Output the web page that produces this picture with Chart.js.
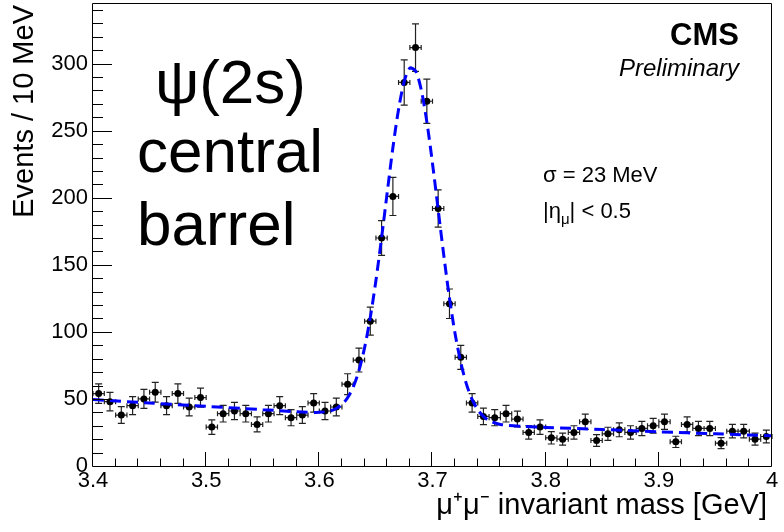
<!DOCTYPE html>
<html lang="en">
<head>
<meta charset="UTF-8">
<title>psi(2s) central barrel</title>
<script src="https://cdn.jsdelivr.net/npm/chart.js"></script>
<style>
  html, body { margin: 0; padding: 0; background: #fff; }
  #wrap { width: 784px; height: 532px; }
</style>
</head>
<body>
<div id="wrap"><canvas id="massChart" width="784" height="532"></canvas></div>
<script>
// bin centres, GeV (10 MeV bins)
const massBins = [
  3.405, 3.415, 3.425, 3.435, 3.445, 3.455, 3.465, 3.475, 3.485, 3.495,
  3.505, 3.515, 3.525, 3.535, 3.545, 3.555, 3.565, 3.575, 3.585, 3.595,
  3.605, 3.615, 3.625, 3.635, 3.645, 3.655, 3.665, 3.675, 3.685, 3.695,
  3.705, 3.715, 3.725, 3.735, 3.745, 3.755, 3.765, 3.775, 3.785, 3.795,
  3.805, 3.815, 3.825, 3.835, 3.845, 3.855, 3.865, 3.875, 3.885, 3.895,
  3.905, 3.915, 3.925, 3.935, 3.945, 3.955, 3.965, 3.975, 3.985, 3.995
];
// events per bin
const events = [
  54, 48, 38, 45, 50, 55, 45, 54, 44, 51,
  29, 39, 41, 39, 31, 39, 45, 36, 38, 47,
  41, 44, 61, 79, 108, 170, 201, 286, 312, 272,
  192, 121, 81, 47, 37, 36, 39, 35, 25, 29,
  21, 20, 25, 33, 19, 24, 27, 25, 28, 30,
  33, 18, 31, 28, 28, 17, 26, 26, 20, 22
];
// vertical error bars
const eventErrors = [
  7.3, 6.9, 6.2, 6.7, 7.1, 7.4, 6.7, 7.3, 6.6, 7.1,
  5.4, 6.2, 6.4, 6.2, 5.6, 6.2, 6.7, 6.0, 6.2, 6.9,
  6.4, 6.6, 7.8, 8.9, 10.4, 13.0, 14.2, 16.9, 17.7, 16.5,
  13.9, 11.0, 9.0, 6.9, 6.1, 6.0, 6.2, 5.9, 5.0, 5.4,
  4.6, 4.5, 5.0, 5.7, 4.4, 4.9, 5.2, 5.0, 5.3, 5.5,
  5.7, 4.2, 5.6, 5.3, 5.3, 4.1, 5.1, 5.1, 4.5, 4.7
];
const halfBin = 0.005;

// fitted curve
const fitMass = [
  3.40, 3.45, 3.50, 3.55, 3.58, 3.60, 3.61, 3.615, 3.62, 3.625,
  3.63, 3.635, 3.64, 3.645, 3.65, 3.655, 3.66, 3.665, 3.67, 3.675,
  3.68, 3.685, 3.69, 3.695, 3.70, 3.705, 3.71, 3.715, 3.72, 3.725,
  3.73, 3.735, 3.74, 3.745, 3.75, 3.76, 3.78, 3.80, 3.85, 3.90,
  3.95, 4.00
];
const fitEvents = [
  49.5, 47, 44.5, 42, 40.5, 40, 41.2, 42.9, 45.9, 51,
  59, 71.2, 88.3, 110.7, 138.3, 170.1, 204.1, 237.3, 265.9, 286.6,
  296.7, 294.6, 280.7, 256.6, 225.6, 191.2, 156.9, 125.2, 98.5, 77.2,
  61, 49.6, 42, 37, 33.9, 31, 29.5, 28.8, 27.2, 25.5,
  24, 22.5
];

const xTickLabels = [3.4, 3.5, 3.6, 3.7, 3.8, 3.9, 4.0];
const yTickLabels = [0, 50, 100, 150, 200, 250, 300];

const FONT = '"Liberation Sans", Arial, Helvetica, sans-serif';

// error bars under the markers
const errorBars = {
  id: 'errorBars',
  beforeDatasetsDraw(chart) {
    const { ctx, scales: { x, y } } = chart;
    ctx.save();
    ctx.strokeStyle = '#222';
    ctx.lineWidth = 1.2;
    ctx.beginPath();
    massBins.forEach((m, i) => {
      const px = x.getPixelForValue(m);
      const py = y.getPixelForValue(events[i]);
      const x0 = x.getPixelForValue(m - halfBin);
      const x1 = x.getPixelForValue(m + halfBin);
      const yTop = y.getPixelForValue(events[i] + eventErrors[i]);
      const yBot = y.getPixelForValue(events[i] - eventErrors[i]);
      ctx.moveTo(x0, py); ctx.lineTo(x1, py);
      ctx.moveTo(x0, py - 2.5); ctx.lineTo(x0, py + 2.5);
      ctx.moveTo(x1, py - 2.5); ctx.lineTo(x1, py + 2.5);
      ctx.moveTo(px, yTop); ctx.lineTo(px, yBot);
      ctx.moveTo(px - 3.5, yTop); ctx.lineTo(px + 3.5, yTop);
      ctx.moveTo(px - 3.5, yBot); ctx.lineTo(px + 3.5, yBot);
    });
    ctx.stroke();
    ctx.restore();
  }
};

// frame + ROOT style inward ticks
const frameTicks = {
  id: 'frameTicks',
  afterDraw(chart) {
    const { ctx, chartArea: a, scales: { x, y } } = chart;
    ctx.save();
    ctx.strokeStyle = '#000';
    ctx.lineWidth = 1;
    ctx.beginPath();
    ctx.rect(a.left - 0.5, a.top - 0.5, a.right - a.left, a.bottom - a.top + 1);
    for (let v = 0; v <= y.max; v += 10) {
      const py = Math.round(y.getPixelForValue(v)) + 0.5;
      const len = v % 50 === 0 ? 19 : 10;
      ctx.moveTo(a.left, py); ctx.lineTo(a.left + len, py);
    }
    for (let k = 0; k <= 30; k++) {
      const px = Math.round(x.getPixelForValue(3.4 + k * 0.02)) - 0.5;
      const len = k % 5 === 0 ? 14 : 7.5;
      ctx.moveTo(px, a.bottom); ctx.lineTo(px, a.bottom - len);
    }
    ctx.stroke();
    ctx.restore();
  }
};

// labels and captions
const captions = {
  id: 'captions',
  afterDraw(chart) {
    const ctx = chart.ctx;
    ctx.save();
    ctx.fillStyle = '#000';
    ctx.textBaseline = 'alphabetic';

    ctx.textAlign = 'left';
    ctx.font = '62px ' + FONT;
    ctx.fillText('ψ(2s)', 155, 103);
    ctx.fillText('central', 137, 172);
    ctx.fillText('barrel', 137, 245);

    ctx.textAlign = 'right';
    ctx.font = 'bold 31px ' + FONT;
    ctx.fillText('CMS', 739, 45);
    ctx.font = 'italic 24px ' + FONT;
    ctx.fillText('Preliminary', 739, 76);

    ctx.textAlign = 'left';
    ctx.font = '22px ' + FONT;
    ctx.fillText('σ = 23 MeV', 543, 182);
    let cx = 543;
    ctx.fillText('|η', cx, 218);
    cx += ctx.measureText('|η').width;
    ctx.font = '15px ' + FONT;
    ctx.fillText('μ', cx, 224);
    cx += ctx.measureText('μ').width;
    ctx.font = '22px ' + FONT;
    ctx.fillText('| < 0.5', cx, 218);

    ctx.textAlign = 'right';
    ctx.font = '29px ' + FONT;
    ctx.fillText('μ⁺μ⁻ invariant mass [GeV]', 767, 514);

    ctx.translate(33, 5);
    ctx.rotate(-Math.PI / 2);
    ctx.fillText('Events / 10 MeV', 0, 0);
    ctx.restore();
  }
};

const ctx = document.getElementById('massChart').getContext('2d');
new Chart(ctx, {
  type: 'scatter',
  data: {
    datasets: [
      {
        label: 'fit',
        type: 'line',
        data: fitMass.map((m, i) => ({ x: m, y: fitEvents[i] })),
        borderColor: '#0000ff',
        borderWidth: 3,
        borderDash: [11, 6],
        pointRadius: 0,
        tension: 0.3,
        fill: false,
        order: 1
      },
      {
        label: 'data',
        data: massBins.map((m, i) => ({ x: m, y: events[i] })),
        pointRadius: 3.5,
        pointBackgroundColor: '#000',
        pointBorderWidth: 0,
        showLine: false,
        order: 2
      }
    ]
  },
  options: {
    responsive: false,
    animation: false,
    layout: { padding: { top: 2, right: 12, left: 0, bottom: 0 } },
    plugins: { legend: { display: false }, tooltip: { enabled: false } },
    scales: {
      x: {
        type: 'linear',
        min: 3.4,
        max: 4.0,
        afterFit(s) { s.height = 66; s.paddingLeft = 0; s.paddingRight = 0; },
        afterBuildTicks(s) { s.ticks = xTickLabels.map(v => ({ value: v })); },
        grid: { display: false, drawTicks: false },
        border: { display: false },
        ticks: {
          padding: 2,
          maxRotation: 0,
          autoSkip: false,
          color: '#000',
          font: { family: FONT, size: 22 },
          callback: v => String(+v.toFixed(1))
        }
      },
      y: {
        type: 'linear',
        min: 0,
        max: 344.5,
        afterFit(s) { s.width = 93; s.paddingTop = 0; s.paddingBottom = 0; },
        afterBuildTicks(s) { s.ticks = yTickLabels.map(v => ({ value: v })); },
        grid: { display: false, drawTicks: false },
        border: { display: false },
        ticks: {
          padding: 5,
          autoSkip: false,
          color: '#000',
          font: { family: FONT, size: 22 }
        }
      }
    }
  },
  plugins: [errorBars, frameTicks, captions]
});
</script>
</body>
</html>
